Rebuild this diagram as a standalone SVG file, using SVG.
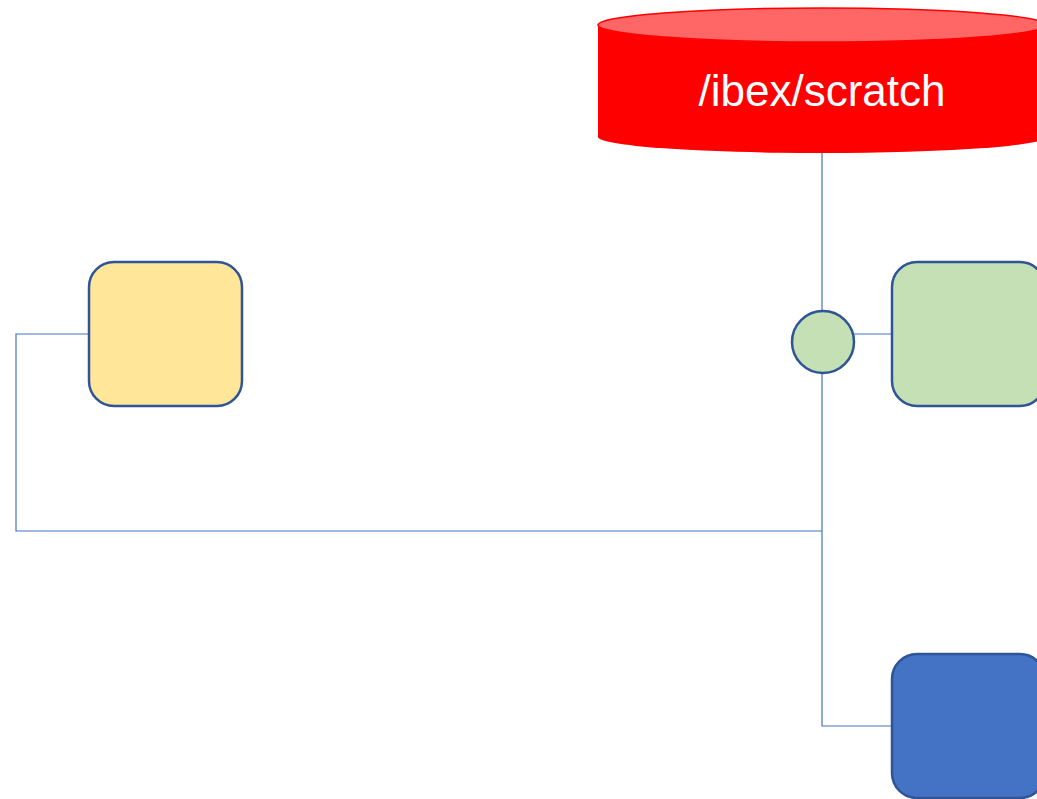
<svg xmlns="http://www.w3.org/2000/svg" width="1037" height="799" viewBox="0 0 1037 799">
<style>
.box{stroke:#2F5597;stroke-width:2.5}
.conn{fill:none;stroke:#4472C4;stroke-width:1.2}
.lbl{font-family:"Liberation Sans",Arial,sans-serif;font-size:44px;fill:#FFFFFF}
</style>
<rect width="1037" height="799" fill="#FFFFFF"/>
<g id="connectors">
<path class="conn" d="M822,153 V311"/>
<path class="conn" d="M854,334 H892"/>
<path class="conn" d="M89,334 H16 V531 H822"/>
<path class="conn" d="M822,373 V726 H892"/>
</g>
<g id="scratch">
<path d="M598,25 V137 A224,16 0 0 0 1046,137 V25 Z" fill="#FF0000"/>
<ellipse cx="822" cy="25" rx="224" ry="17" fill="#FF6666" stroke="#FF0000" stroke-width="1.5"/>
<text class="lbl" x="822" y="106" text-anchor="middle">/ibex/scratch</text>
</g>
<g id="yellow">
<rect class="box" x="89" y="262" width="153" height="144" rx="25" fill="#FFE699"/>
</g>
<g id="junction">
<circle class="box" cx="823" cy="342" r="31" fill="#C5E0B4"/>
</g>
<g id="green">
<rect class="box" x="892" y="262" width="153" height="144" rx="25" fill="#C5E0B4"/>
</g>
<g id="blue">
<rect class="box" x="892" y="654" width="153" height="144" rx="25" fill="#4472C4"/>
</g>
</svg>
